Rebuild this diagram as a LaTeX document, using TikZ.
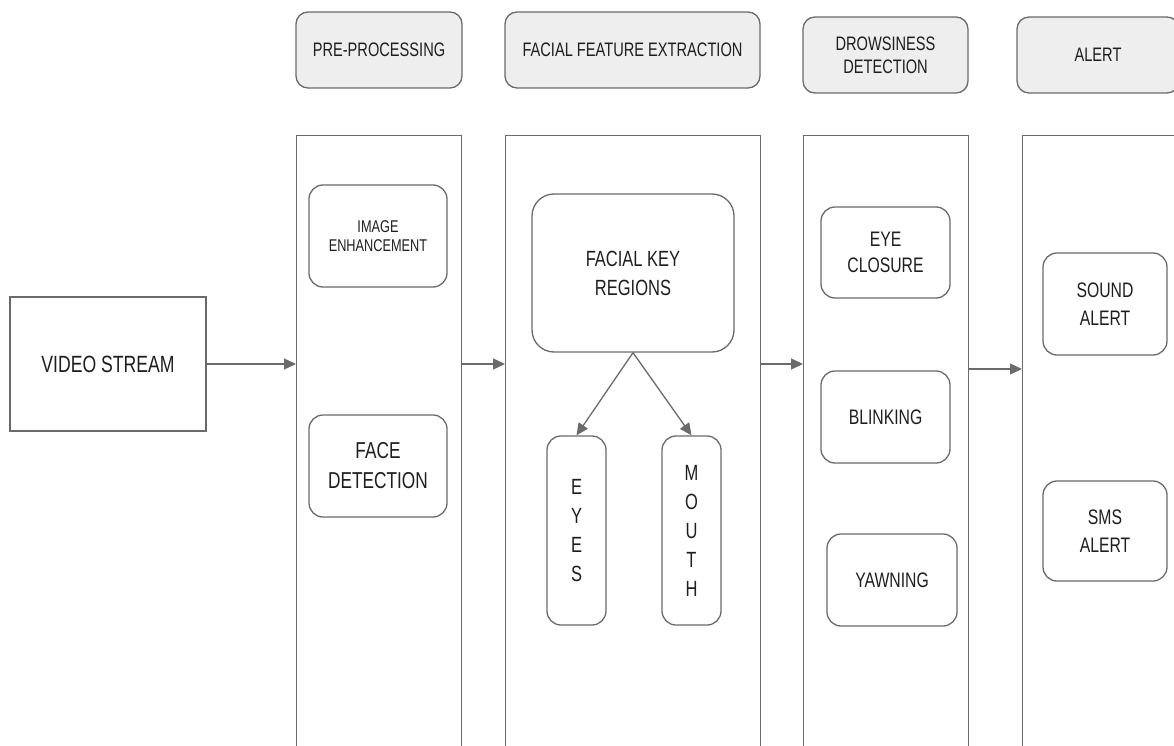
\documentclass[tikz,border=0pt]{standalone}
\usepackage{fontspec}
\setmainfont{Liberation Sans}[FakeStretch=0.75]
\usetikzlibrary{arrows.meta}
\definecolor{lc}{HTML}{6A6A6A}
\definecolor{hdrfill}{HTML}{EEEEEE}
\definecolor{tc}{HTML}{1E1E1E}
\tikzset{
  base/.style={draw=lc, line width=1.3pt, align=center, inner sep=0pt, text=tc},
  box/.style={base, rounded corners=14pt, font=\fontsize{21}{26.5}\selectfont},
  hdr/.style={base, rounded corners=12pt, fill=hdrfill, minimum height=76pt, font=\fontsize{19.5}{23}\selectfont},
  col/.style={base, minimum height=640pt, anchor=north west},
  arr/.style={draw=lc, line width=1.3pt, -{Triangle[length=12pt,width=11pt]}}
}
\begin{document}
\begin{tikzpicture}[x=1pt,y=-1pt]
\useasboundingbox (0,0) rectangle (1174,746);
\clip (0,0) rectangle (1174,746);
% headers
\node[hdr, minimum width=166pt] (hpre) at (379,50) {PRE-PROCESSING};
\node[hdr, minimum width=255pt] (hfac) at (632.5,50) {FACIAL FEATURE EXTRACTION};
\node[hdr, minimum width=165pt] (hdro) at (885.5,55) {DROWSINESS\\DETECTION};
\node[hdr, minimum width=162pt] (halt) at (1098,55) {ALERT};
% columns
\node[col, minimum width=165pt] (cpre) at (296,135) {};
\node[col, minimum width=255pt] (cfac) at (505,135) {};
\node[col, minimum width=165pt] (cdro) at (803,135) {};
\node[col, minimum width=170pt] (calt) at (1022,135) {};
% video stream
\node[base, minimum width=196pt, minimum height=134pt, font=\fontsize{23.5}{29}\selectfont] (video) at (108,364) {VIDEO STREAM};
% pre-processing
\node[box, minimum width=138pt, minimum height=102pt, font=\fontsize{17}{19}\selectfont] (enh) at (378,236) {IMAGE\\ENHANCEMENT};
\node[box, minimum width=138pt, minimum height=102pt, font=\fontsize{23}{30}\selectfont] (face) at (378,466) {FACE\\DETECTION};
% facial features
\node[box, minimum width=202pt, minimum height=158pt, rounded corners=22pt, font=\fontsize{22}{29}\selectfont] (fkr) at (633,273) {FACIAL KEY\\REGIONS};
\node[box, minimum width=59pt, minimum height=189pt, font=\fontsize{22}{29}\selectfont] (eyes) at (576.5,530.5) {E\\Y\\E\\S};
\node[box, minimum width=59pt, minimum height=189pt, font=\fontsize{22}{29}\selectfont] (mouth) at (691.5,530.5) {M\\O\\U\\T\\H};
% drowsiness
\node[box, minimum width=129pt, minimum height=91pt] (eyec) at (885.5,252.5) {EYE\\CLOSURE};
\node[box, minimum width=129pt, minimum height=92pt] (blink) at (885.5,417) {BLINKING};
\node[box, minimum width=130pt, minimum height=92pt] (yawn) at (892,580) {YAWNING};
% alerts
\node[box, minimum width=124pt, minimum height=102pt, font=\fontsize{21}{28}\selectfont] (sound) at (1105,304) {SOUND\\ALERT};
\node[box, minimum width=124pt, minimum height=100pt, font=\fontsize{21}{28}\selectfont] (sms) at (1105,531) {SMS\\ALERT};
% arrows
\draw[arr] (video.east) -- (video.east -| cpre.west);
\draw[arr] (cpre.east |- video.east) -- (cfac.west |- video.east);
\draw[arr] (cfac.east |- video.east) -- (cdro.west |- video.east);
\draw[arr] ([yshift=-5pt]cdro.east |- video.east) -- ([yshift=-5pt]calt.west |- video.east);
\draw[arr] (fkr.south) -- (eyes.north);
\draw[arr] (fkr.south) -- (mouth.north);
\end{tikzpicture}
\end{document}
